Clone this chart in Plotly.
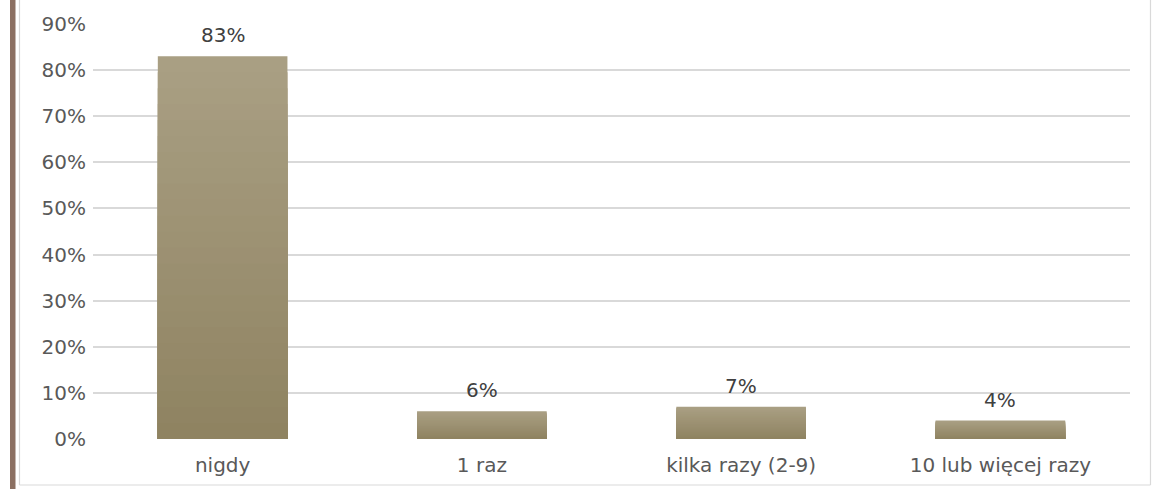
import plotly.graph_objects as go

categories = ["nigdy", "1 raz", "kilka razy (2-9)", "10 lub więcej razy"]
values = [0.83, 0.06, 0.07, 0.04]
labels = ["83%", "6%", "7%", "4%"]
tick_vals = [0, 0.1, 0.2, 0.3, 0.4, 0.5, 0.6, 0.7, 0.8, 0.9]
tick_text = ["0%", "10%", "20%", "30%", "40%", "50%", "60%", "70%", "80%", "90%"]

W, H = 1153, 489
L, R, T, B = 93, 23, 24, 50
pw, ph = W - L - R, H - T - B

top_rgb = (169, 159, 131)
bot_rgb = (142, 130, 96)
N = 24

fig = go.Figure()
for k in range(N):
    f = k / N
    c = tuple(round(top_rgb[i] + (bot_rgb[i] - top_rgb[i]) * f) for i in range(3))
    fig.add_trace(go.Bar(
        x=categories,
        y=[v * (N - k) / N for v in values],
        marker=dict(color="rgb(%d,%d,%d)" % c, line=dict(width=0)),
        hoverinfo="skip",
        showlegend=False,
    ))

for cat, v, t in zip(categories, values, labels):
    fig.add_annotation(x=cat, y=v, text=t, showarrow=False, yanchor="bottom",
                       yshift=7, font=dict(family="DejaVu Sans", size=20, color="#404040"))

def px_x(p):
    return (p - L) / pw

def px_y(p):
    return 1 - (p - T) / ph

shapes = [
    dict(type="rect", xref="paper", yref="paper", x0=px_x(10), x1=px_x(15.5),
         y0=px_y(H), y1=px_y(0), fillcolor="#8c7062", line=dict(width=0), layer="below"),
    dict(type="line", xref="paper", yref="paper", x0=px_x(19.5), x1=px_x(19.5),
         y0=px_y(485), y1=px_y(0), line=dict(color="#d9d9d9", width=1.2)),
    dict(type="line", xref="paper", yref="paper", x0=px_x(19.5), x1=px_x(1150.5),
         y0=px_y(485), y1=px_y(485), line=dict(color="#d9d9d9", width=1.2)),
    dict(type="line", xref="paper", yref="paper", x0=px_x(1150.5), x1=px_x(1150.5),
         y0=px_y(485), y1=px_y(0), line=dict(color="#d9d9d9", width=1.2)),
]

fig.update_layout(
    width=W, height=H,
    margin=dict(l=L, r=R, t=T, b=B, pad=0),
    barmode="overlay",
    bargap=0.5,
    plot_bgcolor="white",
    paper_bgcolor="white",
    shapes=shapes,
    font=dict(family="DejaVu Sans", size=20, color="#595959"),
    xaxis=dict(showgrid=False, showline=False, zeroline=False,
               ticks="", ticklabelstandoff=12, tickfont=dict(size=20, color="#595959")),
    yaxis=dict(range=[0, 0.9], tickvals=tick_vals, ticktext=tick_text,
               showgrid=True, gridcolor="#d9d9d9", gridwidth=2, zeroline=False,
               showline=False, ticks="", ticklabelstandoff=6,
               tickfont=dict(size=20, color="#595959")),
)

fig.write_html("out.html", config={"displayModeBar": False},
               post_script="document.body.style.margin='0';document.body.style.overflow='hidden';")
